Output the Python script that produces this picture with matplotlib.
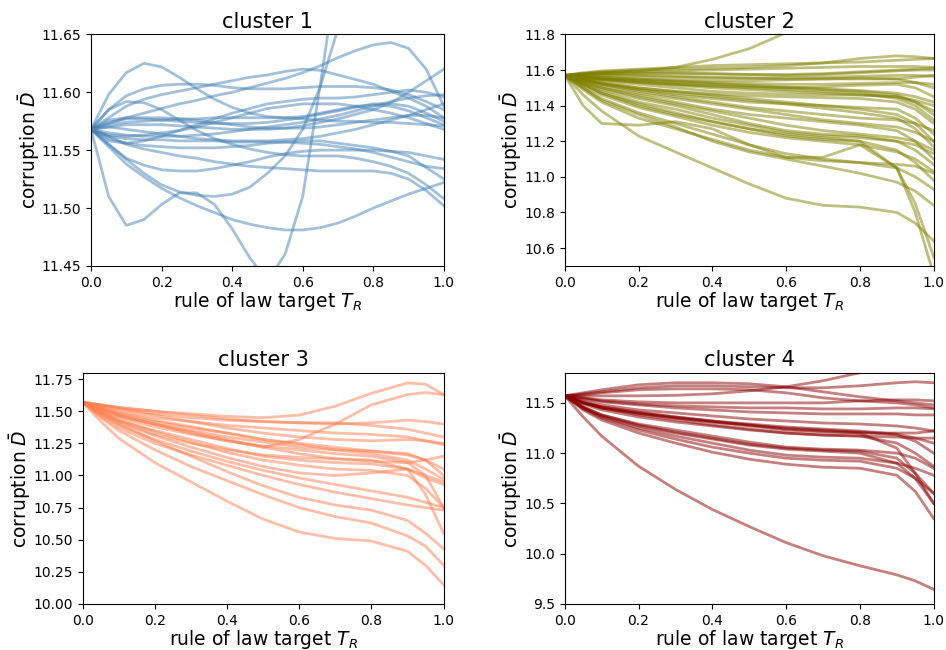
import numpy as np
import matplotlib
matplotlib.use("Agg")
import matplotlib.pyplot as plt

x_fine = [0.0, 0.05, 0.1, 0.15, 0.2, 0.25, 0.3, 0.35, 0.4, 0.45, 0.5,
          0.55, 0.6, 0.65, 0.7, 0.75, 0.8, 0.85, 0.9, 0.95, 1.0]
x = [0.0, 0.05, 0.1, 0.2, 0.3, 0.4, 0.5, 0.6, 0.7, 0.8, 0.9, 0.95, 1.0]

# cluster 1 is read on the finer grid
cluster1 = [
    [11.568, 11.598, 11.617, 11.625, 11.622, 11.613, 11.603, 11.594, 11.587, 11.582, 11.579, 11.578, 11.579, 11.582, 11.585, 11.588, 11.589, 11.588, 11.584, 11.578, 11.572],
    [11.568, 11.573, 11.578, 11.582, 11.586, 11.590, 11.593, 11.597, 11.600, 11.604, 11.608, 11.612, 11.617, 11.623, 11.630, 11.636, 11.641, 11.643, 11.638, 11.620, 11.588],
    [11.568, 11.570, 11.572, 11.572, 11.572, 11.571, 11.570, 11.569, 11.568, 11.568, 11.568, 11.569, 11.571, 11.574, 11.577, 11.581, 11.585, 11.591, 11.600, 11.610, 11.620],
    [11.568, 11.510, 11.485, 11.490, 11.503, 11.513, 11.513, 11.503, 11.482, 11.457, 11.437, 11.460, 11.510, 11.607, 11.710, 11.820, 11.900, 11.950, 12.000, 12.050, 12.100],
    [11.568, 11.555, 11.542, 11.530, 11.520, 11.514, 11.511, 11.510, 11.512, 11.518, 11.530, 11.545, 11.568, 11.605, 11.655, 11.730, 11.800, 11.850, 11.900, 11.950, 12.000],
    [11.568, 11.553, 11.538, 11.527, 11.517, 11.509, 11.502, 11.496, 11.490, 11.486, 11.483, 11.481, 11.481, 11.483, 11.487, 11.493, 11.500, 11.506, 11.512, 11.517, 11.522],
    [11.568, 11.555, 11.543, 11.537, 11.533, 11.532, 11.532, 11.534, 11.537, 11.540, 11.544, 11.547, 11.549, 11.550, 11.550, 11.550, 11.550, 11.549, 11.548, 11.545, 11.542],
    [11.568, 11.562, 11.555, 11.551, 11.548, 11.545, 11.543, 11.540, 11.538, 11.536, 11.535, 11.534, 11.533, 11.532, 11.532, 11.532, 11.532, 11.530, 11.525, 11.515, 11.502],
    [11.568, 11.585, 11.592, 11.591, 11.585, 11.576, 11.567, 11.560, 11.555, 11.551, 11.548, 11.546, 11.545, 11.545, 11.545, 11.543, 11.540, 11.536, 11.530, 11.520, 11.508],
    [11.568, 11.585, 11.597, 11.603, 11.606, 11.607, 11.607, 11.606, 11.604, 11.603, 11.603, 11.603, 11.604, 11.605, 11.605, 11.605, 11.604, 11.602, 11.598, 11.592, 11.585],
    [11.568, 11.578, 11.588, 11.594, 11.598, 11.601, 11.604, 11.607, 11.610, 11.613, 11.615, 11.618, 11.620, 11.619, 11.615, 11.611, 11.607, 11.601, 11.595, 11.588, 11.578],
    [11.568, 11.574, 11.577, 11.577, 11.576, 11.575, 11.574, 11.573, 11.573, 11.573, 11.574, 11.576, 11.578, 11.581, 11.584, 11.587, 11.590, 11.590, 11.588, 11.582, 11.575],
    [11.568, 11.558, 11.556, 11.558, 11.562, 11.567, 11.572, 11.577, 11.582, 11.586, 11.590, 11.592, 11.594, 11.595, 11.595, 11.596, 11.598, 11.600, 11.602, 11.600, 11.596],
    [11.568, 11.563, 11.562, 11.563, 11.565, 11.567, 11.570, 11.574, 11.578, 11.582, 11.586, 11.588, 11.590, 11.590, 11.590, 11.588, 11.585, 11.582, 11.578, 11.573, 11.568],
    [11.568, 11.572, 11.574, 11.575, 11.576, 11.577, 11.577, 11.578, 11.578, 11.578, 11.578, 11.578, 11.577, 11.576, 11.575, 11.575, 11.574, 11.574, 11.573, 11.572, 11.571],
    [11.568, 11.562, 11.560, 11.559, 11.559, 11.558, 11.558, 11.558, 11.557, 11.557, 11.557, 11.557, 11.556, 11.555, 11.553, 11.551, 11.548, 11.544, 11.540, 11.536, 11.534],
    [11.568, 11.565, 11.563, 11.562, 11.562, 11.562, 11.563, 11.564, 11.566, 11.568, 11.570, 11.572, 11.574, 11.577, 11.580, 11.584, 11.588, 11.592, 11.595, 11.597, 11.598],
    [11.568, 11.560, 11.556, 11.554, 11.553, 11.552, 11.552, 11.552, 11.553, 11.554, 11.556, 11.557, 11.558, 11.558, 11.556, 11.554, 11.552, 11.549, 11.545, 11.535, 11.525],
    [11.568, 11.576, 11.578, 11.578, 11.578, 11.577, 11.576, 11.574, 11.572, 11.570, 11.569, 11.569, 11.569, 11.570, 11.572, 11.574, 11.576, 11.578, 11.580, 11.580, 11.578],
    [11.568, 11.570, 11.568, 11.566, 11.564, 11.562, 11.560, 11.559, 11.558, 11.558, 11.558, 11.559, 11.560, 11.562, 11.565, 11.568, 11.572, 11.576, 11.580, 11.585, 11.590],
]

cluster2 = [
    [11.57, 11.58, 11.585, 11.595, 11.615, 11.66, 11.72, 11.81, 11.9, 12.0, 12.1, 12.15, 12.2],
    [11.57, 11.58, 11.59, 11.6, 11.605, 11.61, 11.615, 11.625, 11.64, 11.665, 11.68, 11.675, 11.665],
    [11.57, 11.585, 11.595, 11.605, 11.615, 11.625, 11.63, 11.635, 11.64, 11.645, 11.655, 11.66, 11.665],
    [11.57, 11.58, 11.585, 11.59, 11.595, 11.6, 11.605, 11.61, 11.615, 11.62, 11.62, 11.62, 11.615],
    [11.57, 11.575, 11.578, 11.58, 11.58, 11.578, 11.575, 11.575, 11.58, 11.59, 11.6, 11.605, 11.61],
    [11.57, 11.57, 11.57, 11.565, 11.56, 11.555, 11.555, 11.558, 11.56, 11.565, 11.57, 11.57, 11.565],
    [11.57, 11.565, 11.56, 11.55, 11.545, 11.54, 11.54, 11.545, 11.55, 11.555, 11.55, 11.53, 11.5],
    [11.57, 11.56, 11.55, 11.535, 11.52, 11.51, 11.505, 11.5, 11.505, 11.515, 11.52, 11.5, 11.45],
    [11.57, 11.555, 11.54, 11.52, 11.5, 11.48, 11.47, 11.465, 11.46, 11.46, 11.45, 11.42, 11.37],
    [11.57, 11.55, 11.53, 11.5, 11.48, 11.465, 11.455, 11.45, 11.445, 11.44, 11.42, 11.38, 11.3],
    [11.57, 11.55, 11.525, 11.49, 11.46, 11.44, 11.42, 11.41, 11.4, 11.39, 11.38, 11.33, 11.24],
    [11.57, 11.545, 11.52, 11.48, 11.45, 11.42, 11.39, 11.37, 11.35, 11.33, 11.32, 11.3, 11.26],
    [11.57, 11.54, 11.51, 11.47, 11.44, 11.41, 11.38, 11.35, 11.32, 11.3, 11.28, 11.25, 11.2],
    [11.57, 11.53, 11.5, 11.45, 11.41, 11.37, 11.33, 11.29, 11.26, 11.24, 11.22, 11.2, 11.15],
    [11.57, 11.53, 11.49, 11.44, 11.4, 11.35, 11.3, 11.26, 11.24, 11.23, 11.2, 11.15, 11.07],
    [11.57, 11.52, 11.48, 11.42, 11.38, 11.33, 11.29, 11.25, 11.23, 11.22, 11.2, 11.18, 11.13],
    [11.57, 11.51, 11.46, 11.39, 11.34, 11.29, 11.25, 11.22, 11.2, 11.18, 11.14, 11.1, 11.03],
    [11.57, 11.5, 11.44, 11.36, 11.3, 11.24, 11.18, 11.13, 11.1, 11.08, 11.07, 11.06, 11.02],
    [11.57, 11.49, 11.42, 11.33, 11.27, 11.21, 11.15, 11.11, 11.09, 11.08, 11.05, 11.0, 10.93],
    [11.57, 11.5, 11.43, 11.35, 11.28, 11.2, 11.14, 11.1, 11.06, 11.02, 10.97, 10.92, 10.84],
    [11.57, 11.4, 11.3, 11.29, 11.31, 11.27, 11.18, 11.11, 11.11, 11.18, 11.05, 10.8, 10.45],
    [11.57, 11.46, 11.37, 11.23, 11.14, 11.05, 10.96, 10.88, 10.84, 10.83, 10.8, 10.74, 10.64],
    [11.57, 11.52, 11.47, 11.4, 11.35, 11.31, 11.27, 11.23, 11.21, 11.2, 11.05, 10.85, 10.55],
    [11.57, 11.56, 11.55, 11.53, 11.52, 11.51, 11.5, 11.49, 11.48, 11.47, 11.44, 11.4, 11.32],
    [11.57, 11.565, 11.56, 11.55, 11.54, 11.53, 11.525, 11.52, 11.52, 11.525, 11.53, 11.53, 11.52],
    [11.57, 11.555, 11.545, 11.53, 11.515, 11.5, 11.49, 11.48, 11.47, 11.46, 11.45, 11.43, 11.4],
    [11.57, 11.545, 11.525, 11.5, 11.48, 11.46, 11.44, 11.42, 11.4, 11.38, 11.35, 11.3, 11.2],
    [11.57, 11.575, 11.575, 11.57, 11.565, 11.56, 11.555, 11.55, 11.55, 11.55, 11.55, 11.56, 11.57],
    [11.57, 11.56, 11.555, 11.545, 11.535, 11.525, 11.515, 11.505, 11.495, 11.485, 11.47, 11.45, 11.42],
    [11.57, 11.54, 11.52, 11.49, 11.47, 11.45, 11.43, 11.41, 11.385, 11.36, 11.33, 11.27, 11.17],
    [11.57, 11.52, 11.47, 11.41, 11.36, 11.31, 11.27, 11.24, 11.22, 11.2, 11.15, 11.08, 10.98],
    [11.57, 11.535, 11.5, 11.46, 11.42, 11.38, 11.35, 11.33, 11.31, 11.29, 11.26, 11.2, 11.1],
    [11.57, 11.56, 11.55, 11.54, 11.53, 11.52, 11.51, 11.5, 11.49, 11.48, 11.46, 11.42, 11.35],
    [11.57, 11.575, 11.58, 11.585, 11.585, 11.58, 11.575, 11.57, 11.575, 11.585, 11.595, 11.6, 11.6],
]

cluster3 = [
    [11.57, 11.55, 11.53, 11.5, 11.48, 11.46, 11.45, 11.47, 11.54, 11.64, 11.72, 11.71, 11.63],
    [11.57, 11.52, 11.47, 11.4, 11.33, 11.27, 11.22, 11.28, 11.4, 11.55, 11.63, 11.645, 11.63],
    [11.57, 11.55, 11.53, 11.5, 11.47, 11.44, 11.42, 11.41, 11.4, 11.41, 11.43, 11.42, 11.4],
    [11.57, 11.54, 11.52, 11.48, 11.45, 11.43, 11.42, 11.41, 11.41, 11.39, 11.36, 11.33, 11.3],
    [11.57, 11.53, 11.5, 11.45, 11.42, 11.39, 11.37, 11.35, 11.33, 11.32, 11.3, 11.27, 11.24],
    [11.57, 11.52, 11.48, 11.42, 11.37, 11.33, 11.28, 11.25, 11.22, 11.19, 11.16, 11.12, 11.05],
    [11.57, 11.51, 11.46, 11.4, 11.35, 11.3, 11.26, 11.22, 11.2, 11.19, 11.17, 11.12, 11.0],
    [11.57, 11.5, 11.45, 11.38, 11.32, 11.27, 11.23, 11.2, 11.17, 11.15, 11.1, 11.0, 10.75],
    [11.57, 11.52, 11.47, 11.4, 11.34, 11.28, 11.22, 11.17, 11.13, 11.11, 11.1, 11.12, 11.15],
    [11.57, 11.49, 11.43, 11.35, 11.28, 11.21, 11.15, 11.12, 11.1, 11.09, 11.05, 10.98, 10.93],
    [11.57, 11.48, 11.41, 11.31, 11.22, 11.14, 11.07, 11.02, 11.0, 11.02, 11.05, 11.0, 10.95],
    [11.57, 11.47, 11.39, 11.28, 11.19, 11.11, 11.04, 10.98, 10.93, 10.88, 10.83, 10.79, 10.75],
    [11.57, 11.46, 11.37, 11.25, 11.16, 11.08, 11.0, 10.93, 10.87, 10.82, 10.77, 10.75, 10.73],
    [11.57, 11.49, 11.42, 11.32, 11.25, 11.2, 11.16, 11.14, 11.13, 11.12, 11.05, 10.85, 10.55],
    [11.57, 11.53, 11.49, 11.43, 11.38, 11.33, 11.28, 11.24, 11.2, 11.17, 11.12, 11.05, 10.97],
    [11.57, 11.55, 11.52, 11.47, 11.42, 11.37, 11.33, 11.3, 11.28, 11.27, 11.28, 11.27, 11.25],
    [11.57, 11.42, 11.29, 11.1, 10.95, 10.8, 10.66, 10.56, 10.51, 10.49, 10.41, 10.3, 10.15],
    [11.57, 11.45, 11.35, 11.2, 11.07, 10.96, 10.85, 10.75, 10.68, 10.63, 10.53, 10.45, 10.3],
    [11.57, 11.48, 11.4, 11.27, 11.15, 11.03, 10.92, 10.83, 10.77, 10.73, 10.65, 10.55, 10.43],
    [11.57, 11.5, 11.43, 11.34, 11.26, 11.18, 11.12, 11.08, 11.05, 11.04, 11.0, 10.9, 10.75],
]

cluster4 = [
    [11.57, 11.36, 11.17, 10.87, 10.64, 10.44, 10.27, 10.11, 9.98, 9.88, 9.79, 9.73, 9.645],
    [11.57, 11.57, 11.57, 11.57, 11.575, 11.59, 11.62, 11.66, 11.72, 11.8, 11.88, 11.92, 11.96],
    [11.57, 11.6, 11.63, 11.68, 11.7, 11.7, 11.69, 11.66, 11.61, 11.56, 11.52, 11.5, 11.48],
    [11.57, 11.59, 11.61, 11.65, 11.67, 11.67, 11.66, 11.65, 11.65, 11.67, 11.7, 11.71, 11.7],
    [11.57, 11.58, 11.6, 11.63, 11.64, 11.64, 11.63, 11.6, 11.55, 11.52, 11.5, 11.48, 11.45],
    [11.57, 11.55, 11.53, 11.51, 11.5, 11.5, 11.5, 11.5, 11.5, 11.52, 11.53, 11.53, 11.52],
    [11.57, 11.55, 11.52, 11.49, 11.47, 11.46, 11.45, 11.45, 11.44, 11.44, 11.45, 11.45, 11.44],
    [11.57, 11.54, 11.51, 11.48, 11.45, 11.43, 11.41, 11.4, 11.39, 11.39, 11.39, 11.38, 11.38],
    [11.57, 11.5, 11.45, 11.39, 11.35, 11.31, 11.27, 11.23, 11.21, 11.2, 11.2, 11.2, 11.22],
    [11.57, 11.5, 11.46, 11.4, 11.35, 11.31, 11.28, 11.25, 11.23, 11.21, 11.18, 11.12, 11.0],
    [11.57, 11.51, 11.46, 11.41, 11.36, 11.32, 11.29, 11.26, 11.24, 11.22, 11.19, 11.15, 11.1],
    [11.57, 11.5, 11.45, 11.38, 11.33, 11.28, 11.24, 11.2, 11.18, 11.17, 11.16, 11.15, 11.15],
    [11.57, 11.49, 11.43, 11.36, 11.31, 11.27, 11.23, 11.2, 11.18, 11.17, 11.1, 11.0, 10.87],
    [11.57, 11.46, 11.38, 11.28, 11.21, 11.15, 11.09, 11.05, 11.03, 11.02, 10.95, 10.8, 10.6],
    [11.57, 11.45, 11.37, 11.27, 11.2, 11.14, 11.08, 11.04, 11.02, 11.0, 10.9, 10.75, 10.5],
    [11.57, 11.46, 11.38, 11.29, 11.23, 11.17, 11.11, 11.06, 11.04, 11.03, 11.0, 10.95, 10.85],
    [11.57, 11.45, 11.36, 11.25, 11.17, 11.1, 11.03, 10.98, 10.96, 10.95, 10.9, 10.85, 10.78],
    [11.57, 11.44, 11.35, 11.23, 11.14, 11.06, 11.0, 10.95, 10.93, 10.92, 10.85, 10.75, 10.6],
    [11.57, 11.43, 11.33, 11.2, 11.1, 11.01, 10.94, 10.89, 10.86, 10.85, 10.78, 10.62, 10.35],
    [11.57, 11.5, 11.45, 11.4, 11.36, 11.32, 11.28, 11.24, 11.22, 11.2, 11.05, 10.8, 10.5],
    [11.57, 11.52, 11.48, 11.43, 11.4, 11.37, 11.34, 11.32, 11.3, 11.29, 11.27, 11.25, 11.22],
]

titles = ["cluster 1", "cluster 2", "cluster 3", "cluster 4"]
colors = ["steelblue", "olive", "coral", "darkred"]
ylims = [(11.45, 11.65), (10.5, 11.8), (10.0, 11.8), (9.5, 11.8)]
yticks = [
    [11.45, 11.50, 11.55, 11.60, 11.65],
    [10.6, 10.8, 11.0, 11.2, 11.4, 11.6, 11.8],
    [10.00, 10.25, 10.50, 10.75, 11.00, 11.25, 11.50, 11.75],
    [9.5, 10.0, 10.5, 11.0, 11.5],
]
ytick_fmt = ["%.2f", "%.1f", "%.2f", "%.1f"]

fig = plt.figure(figsize=(9.46, 6.5), dpi=100)
# axes boxes in figure fractions: left, bottom, width, height
boxes = [
    [0.0962, 0.591, 0.373, 0.356],
    [0.597, 0.591, 0.390, 0.356],
    [0.0874, 0.0708, 0.3816, 0.3558],
    [0.597, 0.0708, 0.390, 0.3558],
]
data = [cluster1, cluster2, cluster3, cluster4]
xs = [x_fine, x, x, x]

for i in range(4):
    ax = fig.add_axes(boxes[i])
    for ys in data[i]:
        ax.plot(xs[i], ys, color=colors[i], alpha=0.5, lw=2)
    ax.set_xlim(0, 1)
    ax.set_ylim(*ylims[i])
    ax.set_yticks(yticks[i])
    ax.set_yticklabels([ytick_fmt[i] % v for v in yticks[i]])
    ax.set_title(titles[i], fontsize=15, pad=5)
    ax.set_xlabel(r"rule of law target $T_R$", fontsize=13.5, labelpad=0)
    ax.set_ylabel(r"corruption $\bar{D}$", fontsize=13.5, labelpad=0)

plt.savefig("out.png", dpi=100)
